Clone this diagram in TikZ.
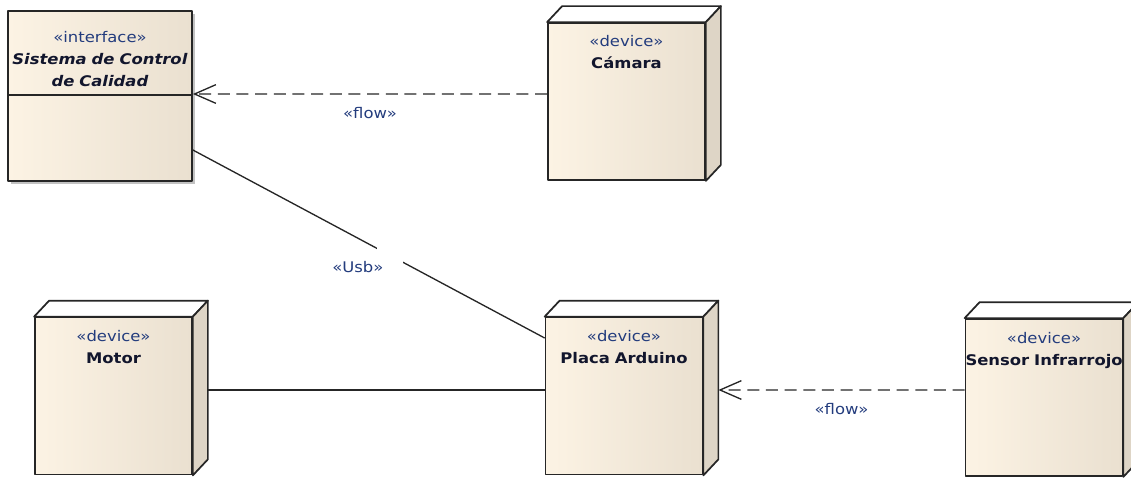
\documentclass[tikz,border=0pt]{standalone}
\usepackage{fontspec}
\setmainfont{DejaVu Sans}[FakeStretch=1.12]
\usepackage{xcolor}
\usetikzlibrary{
arrows.meta,
calc,
shadows
}
\definecolor{creamL}{RGB}{252,243,228}
\definecolor{creamR}{RGB}{234,224,208}
\definecolor{sideface}{RGB}{222,213,198}
\definecolor{stereo}{RGB}{35,60,125}
\definecolor{nameblue}{RGB}{18,22,45}
\newcommand{\stereotype}[1]{{\color{stereo}\mdseries\upshape «#1»}}
\newcommand{\devcube}[1]{%
  \draw[boxline, fill=white] (#1.north west) -- ++(15,-16) -- ($(#1.north east)+(15,-16)$) -- (#1.north east) -- cycle;
  \draw[boxline, fill=sideface] (#1.north east) -- ++(15,-16) -- ($(#1.south east)+(15,-16)$) -- (#1.south east) -- cycle;}

\begin{document}
\begin{tikzpicture}[
    x=0.75pt, y=-0.75pt,
    boxline/.style={draw=black!85, line width=1.3pt, line join=round},
    devbox/.style={boxline,
      left color=creamL, right color=creamR,
      inner sep=0pt,
      text width=117.75pt, text height=18pt, text depth=99.75pt,
      align=center,
      font=\fontsize{11}{16.5}\selectfont\bfseries, text=nameblue},
    ifbox/.style={devbox, text width=138pt, text height=24pt, text depth=103.5pt,
      drop shadow={shadow xshift=2.5pt, shadow yshift=-2.5pt, fill=black!40, opacity=0.6}},
    conn/.style={line width=1pt, draw=black!85},
    flow/.style={conn, dash pattern=on 9pt off 5pt, -{Straight Barb[length=16pt, width=14pt]}},
    rel/.style={font=\fontsize{11}{13}\selectfont, text=stereo}
  ]
  \useasboundingbox (0,0) rectangle (1131,478);

  \node[ifbox] (scc) at (100,96) {\stereotype{interface}\\\textit{Sistema de Control}\\\textit{de Calidad}};
  \draw[boxline] ($(scc.north west)+(0,85)$) -- ($(scc.north east)+(0,85)$);

  \node[devbox] (cam) at (626.5,101.5) {\stereotype{device}\\Cámara};
  \node[devbox] (motor) at (113.5,396) {\stereotype{device}\\Motor};
  \node[devbox] (placa) at (624,396) {\stereotype{device}\\Placa Arduino};
  \node[devbox] (sensor) at (1044,397.5) {\stereotype{device}\\\mbox{Sensor Infrarrojo}};
  \devcube{cam}
  \devcube{motor}
  \devcube{placa}
  \devcube{sensor}

  \draw[flow] ([yshift=5.6pt]cam.west) -- ([yshift=1.5pt]scc.east) node[rel, midway, below=6pt] (flowcam) {«flow»};
  \draw[flow] ([yshift=5.6pt]sensor.west) -- ([xshift=11.25pt, yshift=4.5pt]placa.east) node[rel, midway, below=6pt] (flowsensor) {«flow»};
  \draw[conn] ([xshift=11.25pt, yshift=4.5pt]motor.east) -- ([yshift=4.5pt]placa.west);
  \draw[conn] ([yshift=-40.5pt]scc.east) -- node[pos=0.56, fill=white, inner sep=0pt, minimum size=20pt] (usbgap) {} ([yshift=43.5pt]placa.west);
  \node[rel] (usb) at ($(usbgap)+(-32,12)$) {«Usb»};
\end{tikzpicture}
\end{document}
